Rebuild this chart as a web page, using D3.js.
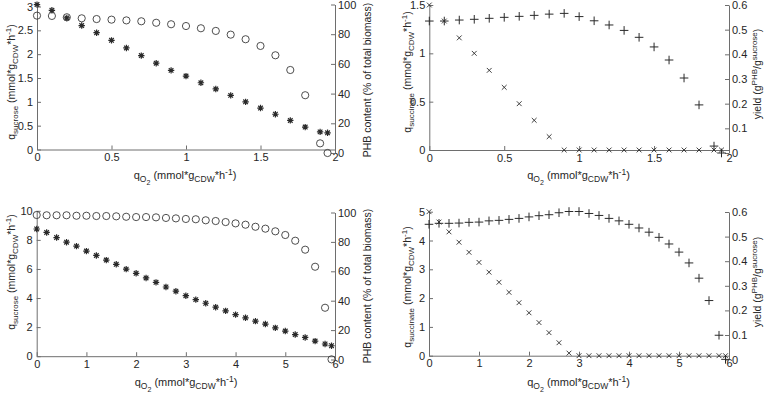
<!DOCTYPE html>
<html><head><meta charset="utf-8">
<script src="https://cdn.jsdelivr.net/npm/d3@7"></script>
<style>
html,body{margin:0;padding:0;background:#fff;}
svg{display:block;font-family:"Liberation Sans",Arial,sans-serif;}
</style></head>
<body><svg id="chart" width="764" height="396"></svg>
<script>
// ---------- DATA ----------
const qO2_top = [0,0.1,0.2,0.3,0.4,0.5,0.6,0.7,0.8,0.9,1.0,1.1,1.2,1.3,1.4,1.5,1.6,1.7,1.8,1.9,1.95];
const qSucrose_top = [3.04,2.92,2.76,2.60,2.45,2.29,2.13,1.97,1.81,1.66,1.54,1.40,1.27,1.135,1.00,0.87,0.74,0.61,0.47,0.37,0.35];
const phb_top = [92.5,92.3,91.4,90.7,90.2,89.8,89.3,88.7,87.7,86.7,85.5,84.0,82.2,79.7,76.6,72.1,65.8,55.9,38.9,6.5,0];
const qSuccinate_top = [1.50,1.334,1.16,1.00,0.824,0.648,0.479,0.307,0.138,0,0,0,0,0,0,0,0,0,0,0,0];
const yield_top = [0.535,0.535,0.539,0.542,0.546,0.550,0.554,0.558,0.563,0.566,0.553,0.536,0.519,0.497,0.469,0.430,0.377,0.304,0.195,0.028,0];

const qO2_bot = [0,0.2,0.4,0.6,0.8,1.0,1.2,1.4,1.6,1.8,2.0,2.2,2.4,2.6,2.8,3.0,3.2,3.4,3.6,3.8,4.0,4.2,4.4,4.6,4.8,5.0,5.2,5.4,5.6,5.8,5.93];
const qSucrose_bot = [8.75,8.51,8.16,7.84,7.57,7.23,6.93,6.61,6.32,5.99,5.70,5.38,5.08,4.76,4.47,4.16,3.89,3.64,3.37,3.12,2.86,2.64,2.41,2.21,1.95,1.73,1.49,1.29,1.04,0.84,0.72];
const phb_bot = [98.3,98.1,98.1,98.1,97.8,97.8,97.6,97.6,97.4,97.1,96.9,96.9,96.7,96.3,96.0,95.6,95.4,94.7,94.2,93.5,92.6,91.7,90.3,89.0,87.2,84.7,80.8,74.7,63.1,35.2,0.1];
const qSuccinate_bot = [5.0,4.64,4.30,3.94,3.59,3.24,2.90,2.55,2.20,1.84,1.49,1.15,0.80,0.45,0.09,0,0,0,0,0,0,0,0,0,0,0,0,0,0,0,0];
const yield_bot = [0.550,0.554,0.554,0.555,0.558,0.559,0.564,0.566,0.570,0.574,0.580,0.585,0.589,0.597,0.602,0.602,0.594,0.586,0.574,0.564,0.550,0.535,0.518,0.497,0.470,0.437,0.393,0.331,0.240,0.099,0.001];

// tick values
const xTicks_top = [0,0.5,1,1.5,2];
const xTicks_bot = [0,1,2,3,4,5,6];
const sucroseTicks_top = [0,0.5,1,1.5,2,2.5,3];
const sucroseTicks_bot = [0,2,4,6,8,10];
const succinateTicks_top = [0,0.5,1,1.5];
const succinateTicks_bot = [0,1,2,3,4,5];
const phbTicks = [0,20,40,60,80,100];
const yieldTicks = [0,0.1,0.2,0.3,0.4,0.5,0.6];

// axis titles (rich text parts)
const titleX = [{t:"q"},{t:"O",s:"sub"},{t:"2",s:"subsub"},{t:" (mmol*g"},{t:"CDW",s:"sub"},{t:"*h"},{t:"-1",s:"sup"},{t:")"}];
const titleSucrose = [{t:"q"},{t:"sucrose",s:"sub"},{t:" (mmol*g"},{t:"CDW",s:"sub"},{t:"*h"},{t:"-1",s:"sup"},{t:")"}];
const titleSuccinate = [{t:"q"},{t:"succinate",s:"sub"},{t:" (mmol*g"},{t:"CDW",s:"sub"},{t:"*h"},{t:"-1",s:"sup"},{t:")"}];
const titlePHB = [{t:"PHB content (% of total biomass)"}];
const titleYield = [{t:"yield (g"},{t:"PHB",s:"sup"},{t:"/g"},{t:"sucrose",s:"sup"},{t:")"}];

// ---------- DRAW ----------
const svg = d3.select("#chart");
const AX = "#6e6e6e", TX = "#262626", MK = "#2a2a2a";
const fmt = d => String(+(+d).toFixed(3));

function rich(sel, parts, size) {
  const lvl = {n:0, sub:3, subsub:5.5, sup:-4};
  const fs = {n:size, sub:size-2.5, subsub:size-4, sup:size-2.5};
  let cur = 0;
  parts.forEach(p => {
    const s = p.s || "n";
    const target = lvl[s];
    sel.append("tspan").attr("dy", target - cur).attr("font-size", fs[s]).text(p.t);
    cur = target;
  });
}

function marker(g, type, cx, cy) {
  if (type === "o") {
    g.append("circle").attr("cx", cx).attr("cy", cy).attr("r", 3.6)
      .attr("fill", "none").attr("stroke", "#3a3a3a").attr("stroke-width", 0.9);
    return;
  }
  let d = "";
  if (type === "+" || type === "*") { const h = type === "+" ? 4.3 : 3.2;
    d += `M${cx-h},${cy}H${cx+h}M${cx},${cy-h}V${cy+h}`; }
  if (type === "x" || type === "*") { const h = type === "x" ? 2.4 : 2.3;
    d += `M${cx-h},${cy-h}L${cx+h},${cy+h}M${cx-h},${cy+h}L${cx+h},${cy-h}`; }
  g.append("path").attr("d", d).attr("fill", "none").attr("stroke", MK)
    .attr("stroke-width", type === "x" ? 0.9 : (type === "*" ? 1.2 : 1));
}

function panel(c) {
  const g = svg.append("g");
  const x = d3.scaleLinear().domain(c.xDom).range([c.x0, c.x1]);
  const yL = d3.scaleLinear().domain(c.lDom).range([c.yBot, c.yTopL]);
  const yR = d3.scaleLinear().domain(c.rDom).range([c.yBotR, c.yTopR]);

  const style = a => {
    a.selectAll("path.domain").attr("stroke", AX);
    a.selectAll(".tick line").attr("stroke", AX);
    a.selectAll(".tick text").attr("fill", TX).attr("font-size", 11)
      .attr("font-family", '"Liberation Sans",Arial,sans-serif');
  };
  const gx = g.append("g").attr("transform", `translate(0,${c.yBot})`)
    .call(d3.axisBottom(x).tickValues(c.xTicks).tickFormat(fmt).tickSizeInner(-4).tickSizeOuter(0).tickPadding(4));
  style(gx);
  const gl = g.append("g").attr("transform", `translate(${c.x0},0)`)
    .call(d3.axisLeft(yL).tickValues(c.lTicks).tickFormat(fmt).tickSizeInner(-4).tickSizeOuter(0).tickPadding(4));
  style(gl);
  const gr = g.append("g").attr("transform", `translate(${c.x1},0)`)
    .call(d3.axisRight(yR).tickValues(c.rTicks).tickFormat(fmt).tickSizeInner(-4).tickSizeOuter(0).tickPadding(3));
  style(gr);

  const mg = g.append("g");
  c.xs.forEach((xv, i) => marker(mg, c.lMark, x(xv), yL(c.lVals[i])));
  c.xs.forEach((xv, i) => marker(mg, c.rMark, x(xv), yR(c.rVals[i])));

  const tb = g.append("text").attr("x", c.xtX).attr("y", c.xtY).attr("text-anchor", "middle").attr("fill", TX);
  rich(tb, titleX, 11);
  const tl = g.append("text").attr("transform", `translate(${c.ltX},${c.ltY}) rotate(-90)`)
    .attr("text-anchor", "middle").attr("fill", TX);
  rich(tl, c.lTitle, 10.5);
  const tr = g.append("text").attr("transform", `translate(${c.rtX},${c.rtY}) rotate(-90)`)
    .attr("text-anchor", "middle").attr("fill", TX);
  rich(tr, c.rTitle, 10.5);
}

panel({x0:37, x1:335, yBot:149.5, yTopL:6.5, yBotR:153, yTopR:4.5,
  xDom:[0,2], lDom:[0,3], rDom:[0,100], xTicks:xTicks_top, lTicks:sucroseTicks_top, rTicks:phbTicks,
  xs:qO2_top, lVals:qSucrose_top, rVals:phb_top, lMark:"*", rMark:"o",
  xtX:185, xtY:179, ltX:15, ltY:82, rtX:371, rtY:80, lTitle:titleSucrose, rTitle:titlePHB});

panel({x0:429.3, x1:729, yBot:150, yTopL:5, yBotR:153, yTopR:5,
  xDom:[0,2], lDom:[0,1.5], rDom:[0,0.6], xTicks:xTicks_top, lTicks:succinateTicks_top, rTicks:yieldTicks,
  xs:qO2_top, lVals:qSuccinate_top, rVals:yield_top, lMark:"x", rMark:"+",
  xtX:578.5, xtY:179, ltX:411, ltY:72, rtX:761, rtY:74, lTitle:titleSuccinate, rTitle:titleYield});

panel({x0:36.7, x1:335, yBot:356.2, yTopL:210.8, yBotR:359.5, yTopR:212.5,
  xDom:[0,6], lDom:[0,10], rDom:[0,100], xTicks:xTicks_bot, lTicks:sucroseTicks_bot, rTicks:phbTicks,
  xs:qO2_bot, lVals:qSucrose_bot, rVals:phb_bot, lMark:"*", rMark:"o",
  xtX:186, xtY:386, ltX:15, ltY:272, rtX:371, rtY:286, lTitle:titleSucrose, rTitle:titlePHB});

panel({x0:429, x1:729, yBot:355.7, yTopL:211.7, yBotR:359.6, yTopR:212,
  xDom:[0,6], lDom:[0,5], rDom:[0,0.6], xTicks:xTicks_bot, lTicks:succinateTicks_bot, rTicks:yieldTicks,
  xs:qO2_bot, lVals:qSuccinate_bot, rVals:yield_bot, lMark:"x", rMark:"+",
  xtX:578.5, xtY:386, ltX:411, ltY:287, rtX:761, rtY:282, lTitle:titleSuccinate, rTitle:titleYield});
</script>
</body></html>
